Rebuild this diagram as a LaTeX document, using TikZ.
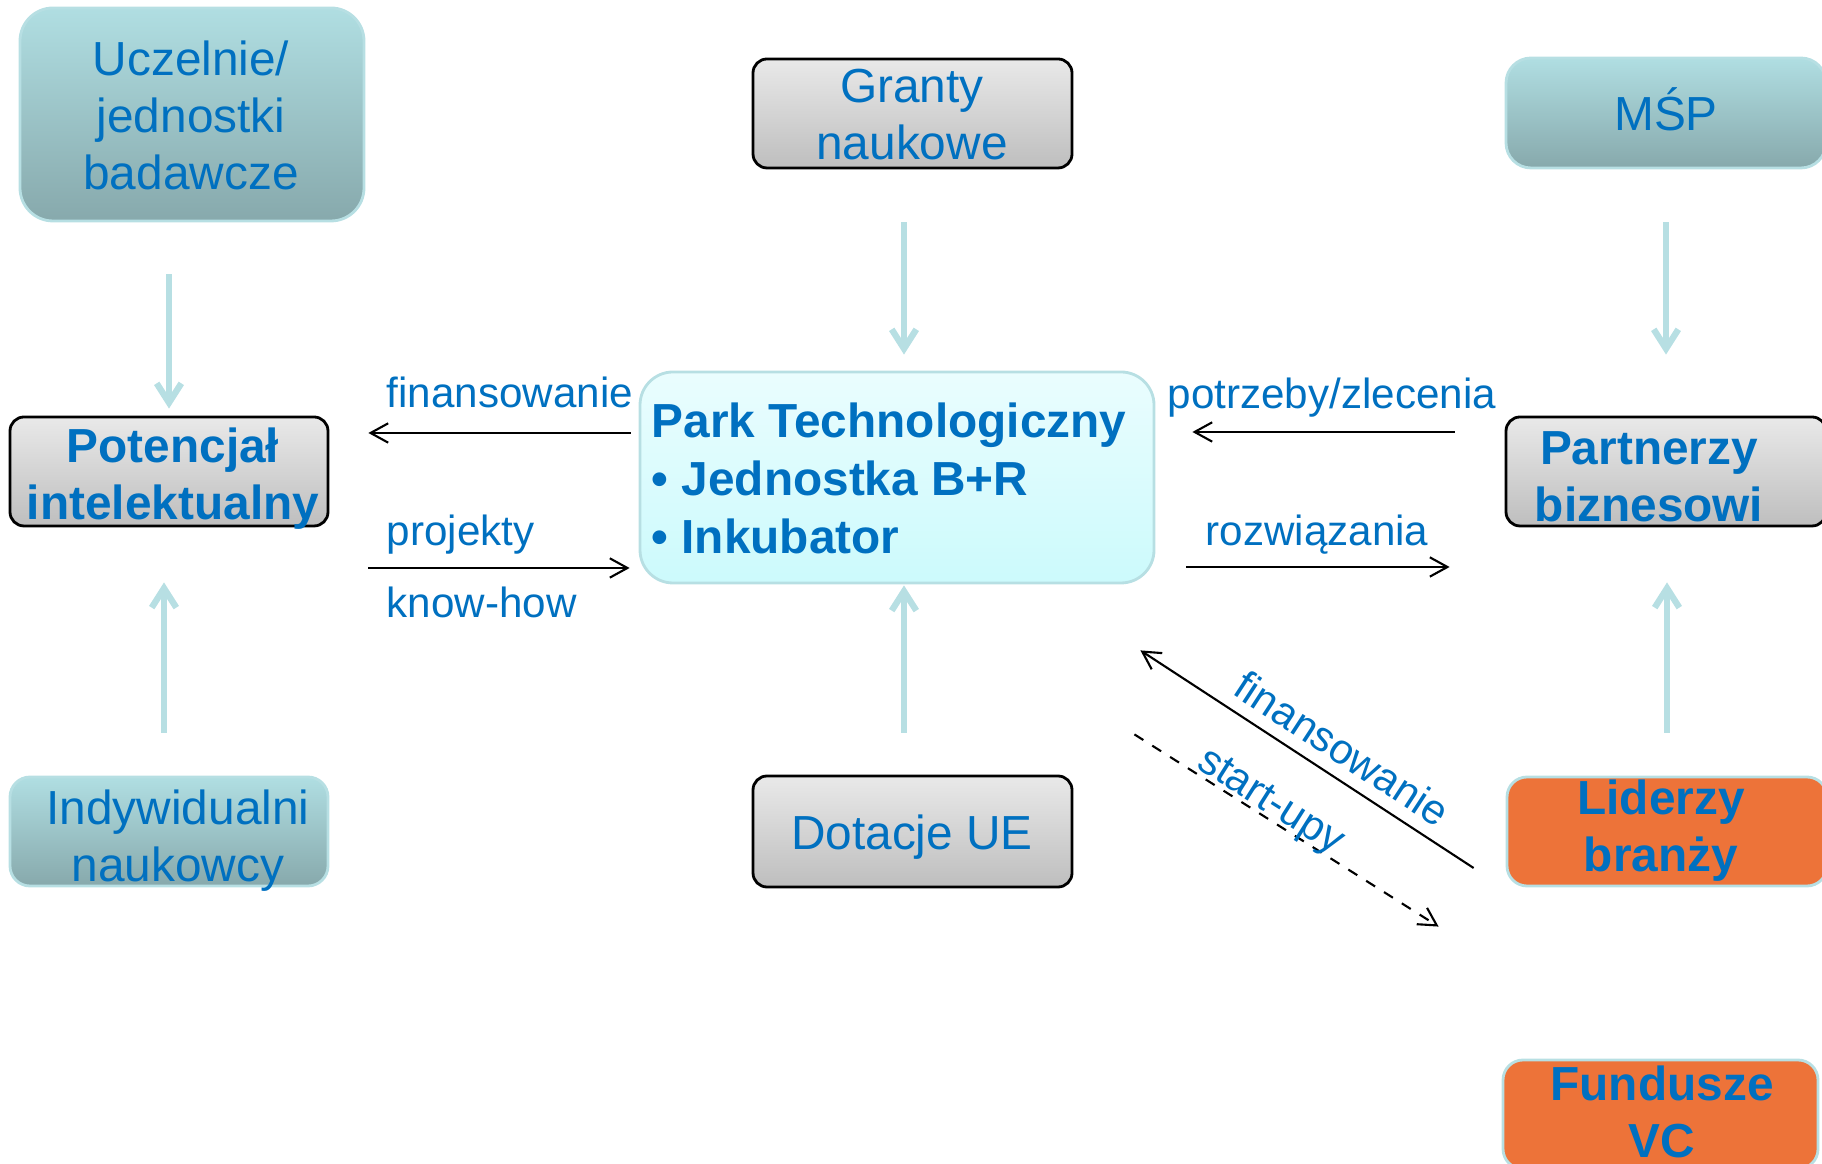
\documentclass[tikz,border=0pt]{standalone}
\usepackage{fontspec}
\setmainfont{Liberation Sans}
\usetikzlibrary{arrows.meta}

\definecolor{txtblue}{HTML}{0070C0}
\definecolor{tealtop}{HTML}{B0DEE2}
\definecolor{tealbot}{HTML}{87A9AC}
\definecolor{tealline}{HTML}{B7DFE3}
\definecolor{graytop}{HTML}{E9E9E9}
\definecolor{graybot}{HTML}{BEBEBE}
\definecolor{parktop}{HTML}{EAFDFE}
\definecolor{parkbot}{HTML}{CCFAFC}
\definecolor{vcorange}{HTML}{ED7339}

\tikzset{
  plainbox/.style={rectangle, inner sep=0pt, line width=0.8pt},
  tealbox/.style={plainbox, draw=tealline, top color=tealtop, bottom color=tealbot, rounded corners=0.25cm},
  graybox/.style={plainbox, draw=black, top color=graytop, bottom color=graybot, rounded corners=0.14cm},
  hotbox/.style={plainbox, draw=tealline, fill=vcorange, rounded corners=0.2cm},
  boxtext/.style={text=txtblue, align=center, inner sep=0pt, anchor=base, font=\fontsize{13.6}{16.3}\selectfont},
  boldtext/.style={boxtext, font=\fontsize{13.6}{16.3}\selectfont\bfseries},
  lbl/.style={text=txtblue, inner sep=0pt, anchor=base west, font=\fontsize{12}{14}\selectfont},
  feed/.style={draw=tealline, line width=1.8pt, -{Straight Barb[length=5.5pt, width=7pt]}},
  flow/.style={line width=0.6pt, -{Straight Barb[length=5pt, width=5.5pt]}},
}

\begin{document}
\begin{tikzpicture}
    \useasboundingbox (0,0) rectangle (18.22,11.64);

    % boxes
    \node[tealbox, minimum width=3.44cm, minimum height=2.13cm, rounded corners=0.33cm] (uczelnie) at (1.92,10.495) {};
    \node[graybox, minimum width=3.19cm, minimum height=1.09cm] (granty) at (9.125,10.505) {};
    \node[tealbox, minimum width=3.20cm, minimum height=1.10cm] (msp) at (16.66,10.51) {};
    \node[graybox, minimum width=3.18cm, minimum height=1.09cm] (potencjal) at (1.69,6.925) {};
    \node[plainbox, draw=tealline, top color=parktop, bottom color=parkbot, rounded corners=0.33cm,
          minimum width=5.14cm, minimum height=2.11cm] (park) at (8.97,6.865) {};
    \node[graybox, minimum width=3.20cm, minimum height=1.09cm] (partnerzy) at (16.66,6.925) {};
    \node[tealbox, minimum width=3.18cm, minimum height=1.09cm, rounded corners=0.2cm] (indywidualni) at (1.69,3.325) {};
    \node[graybox, minimum width=3.19cm, minimum height=1.11cm] (dotacje) at (9.125,3.325) {};
    \node[hotbox, minimum width=3.20cm, minimum height=1.09cm] (liderzy) at (16.67,3.325) {};
    \node[hotbox, minimum width=3.15cm, minimum height=1.09cm] (fundusze) at (16.605,0.495) {};

    % texts
    \node[boxtext] (uczelnie-t) at (1.91,9.74) {Uczelnie/\\jednostki\\badawcze};
    \node[boxtext] (granty-t) at (9.12,10.04) {Granty\\naukowe};
    \node[boxtext] (msp-t) at (16.66,10.33) {MŚP};
    \node[boldtext] (potencjal-t) at (1.73,6.44) {Potencjał\\intelektualny};
    \node[boldtext, anchor=base west, align=left, font=\fontsize{13.6}{16.6}\selectfont\bfseries] (park-t) at (6.51,6.10)
        {Park Technologiczny\\• Jednostka B+R\\• Inkubator};
    \node[boldtext] (partnerzy-t) at (16.49,6.42) {Partnerzy\\biznesowi};
    \node[boxtext] (indywidualni-t) at (1.78,2.82) {Indywidualni\\naukowcy};
    \node[boxtext] (dotacje-t) at (9.12,3.14) {Dotacje UE};
    \node[boldtext] (liderzy-t) at (16.61,2.92) {Liderzy\\branży};
    \node[boldtext] (fundusze-t) at (16.62,0.06) {Fundusze\\VC};

    % feeding arrows
    \draw[feed, shorten <=0.52cm, shorten >=0.07cm] (uczelnie.south -| potencjal.north) -- (potencjal.north);
    \draw[feed, shorten <=0.53cm, shorten >=0.16cm] ([xshift=-0.085cm]granty.south) -- ([xshift=-0.085cm]granty.south |- park.north);
    \draw[feed, shorten <=0.53cm, shorten >=0.61cm] (msp.south) -- (msp.south |- partnerzy.north);
    \draw[feed, shorten <=0.43cm, shorten >=0.55cm] ([xshift=-0.05cm]indywidualni.north) -- ([xshift=-0.05cm]indywidualni.north |- potencjal.south);
    \draw[feed, shorten <=0.42cm, shorten >=0.01cm] ([xshift=-0.085cm]dotacje.north) -- ([xshift=-0.085cm]dotacje.north |- park.south);
    \draw[feed, shorten <=0.43cm, shorten >=0.55cm] (liderzy.north) -- (liderzy.north |- partnerzy.south);

    % flows
    \draw[flow, shorten <=0.08cm, shorten >=0.39cm] (park.west |- 0,7.31) -- (potencjal.east |- 0,7.31);
    \draw[flow, shorten <=0.39cm, shorten >=0.09cm] (potencjal.east |- 0,5.96) -- (park.west |- 0,5.96);
    \draw[flow, shorten <=0.50cm, shorten >=0.37cm] (partnerzy.west |- 0,7.32) -- (park.east |- 0,7.32);
    \draw[flow, shorten <=0.31cm, shorten >=0.55cm] (park.east |- 0,5.97) -- (partnerzy.west |- 0,5.97);
    \draw[flow] ([shift={(-0.32,-0.365)}]liderzy.west) -- ([shift={(-0.15,-0.66)}]park.south east)
        node[pos=0.44, sloped, above, text=txtblue, font=\fontsize{12}{14}\selectfont] (fin-diag) {finansowanie};
    \draw[flow, dashed] ([shift={(-0.21,-1.50)}]park.south east) -- ([shift={(-0.63,1.32)}]fundusze.north west)
        node[pos=0.42, sloped, above=-1.5pt, inner sep=0pt, text=txtblue, font=\fontsize{12}{14}\selectfont] (start-diag) {start-upy};

    % labels
    \node[lbl] (fin-l) at (3.86,7.56) {finansowanie};
    \node[lbl] (proj-l) at (3.86,6.18) {projekty};
    \node[lbl] (know-l) at (3.86,5.46) {know-how};
    \node[lbl] (potrz-l) at (11.67,7.55) {potrzeby/zlecenia};
    \node[lbl] (rozw-l) at (12.05,6.18) {rozwiązania};
\end{tikzpicture}
\end{document}
